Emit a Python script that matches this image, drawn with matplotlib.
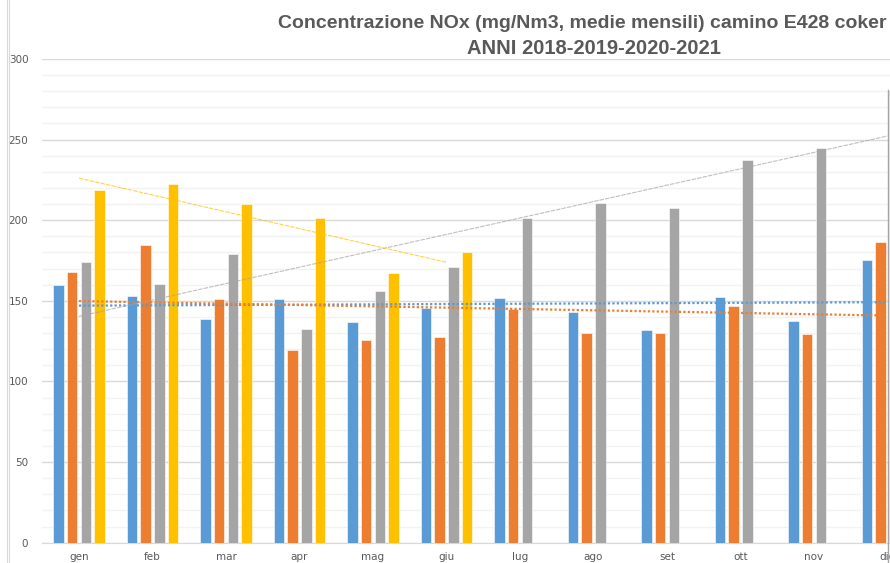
import matplotlib
matplotlib.use("Agg")
import matplotlib.pyplot as plt
from matplotlib.lines import Line2D
import numpy as np

mesi = ['gen', 'feb', 'mar', 'apr', 'mag', 'giu', 'lug', 'ago', 'set', 'ott', 'nov', 'dic']
nox_2018 = [160, 153.2, 138.6, 151, 136.7, 145.8, 151.6, 143.1, 131.9, 152.2, 137.7, 175.5]
nox_2019 = [168, 184.6, 151, 119.3, 125.7, 127.8, 144.8, 130, 129.9, 147, 129.6, 186.7]
nox_2020 = [174, 160.4, 179, 132.4, 156, 171.2, 201.6, 210.9, 207.8, 237.4, 245, 280]
nox_2021 = [218.6, 222.5, 210, 201.3, 167.1, 180.5]
colori = ['#5B9BD5', '#ED7D31', '#A5A5A5', '#FFC000']

fig = plt.figure(figsize=(8.9, 5.63), dpi=100)
ax = fig.add_axes([42.25 / 890, 20.3 / 563, 882 / 890, 483.7 / 563])

serie = [nox_2018, nox_2019, nox_2020, nox_2021]
bw = 0.143
step = 0.184
for i, vals in enumerate(serie):
    x = np.arange(len(vals))
    ax.bar(x + (i - 1.5) * step, vals, width=bw, color=colori[i],
           edgecolor='white', linewidth=0.4, zorder=3)

# linee di tendenza (lineari)
for i, vals in enumerate(serie):
    x = np.arange(len(vals))
    m, q = np.polyfit(x, vals, 1)
    xx = np.array([0, len(vals) - 1])
    if i < 2:
        ax.plot(xx, m * xx + q, color=colori[i], lw=1.6, ls=(0, (1, 1)), zorder=4)
    else:
        ax.plot(xx, m * xx + q, color=colori[i], lw=0.8, ls=(0, (4, 1)), alpha=0.7, zorder=4)

ax.set_xlim(-0.5, 11.5)
ax.set_ylim(0, 300)
ax.set_xticks(range(len(mesi)))
ax.set_xticklabels(mesi)
ax.set_yticks(range(0, 301, 50))
ax.set_yticks(range(0, 301, 10), minor=True)
ax.grid(axis='y', which='major', color='#d9d9d9', lw=1.0, zorder=0)
ax.grid(axis='y', which='minor', color='#f2f2f2', lw=1.0, zorder=0)
for s in ['top', 'right', 'left']:
    ax.spines[s].set_visible(False)
ax.spines['bottom'].set_color('#d9d9d9')
ax.tick_params(axis='both', which='both', length=0, labelsize=7.5, labelcolor='#595959')
ax.tick_params(axis='y', pad=10)
ax.tick_params(axis='x', pad=7)

fig.text(278 / 890, 1 - 24 / 563, 'Concentrazione NOx (mg/Nm3, medie mensili) camino E428 coker',
         ha='left', va='center', fontsize=14, fontweight='bold', color='#595959',
         family='Liberation Sans')
fig.text(594 / 890, 1 - 49 / 563, 'ANNI 2018-2019-2020-2021',
         ha='center', va='center', fontsize=14.5, fontweight='bold', color='#595959',
         family='Liberation Sans')

# bordi della cornice
fig.add_artist(Line2D([6.7 / 890, 6.7 / 890], [0, 1], color='#d9d9d9', lw=0.8))
fig.add_artist(Line2D([9 / 890, 9 / 890], [0, 1], color='#d9d9d9', lw=0.8))
fig.add_artist(Line2D([888 / 890, 888 / 890], [0, 1 - 90 / 563], color='#a6a6a6', lw=1.0))

fig.savefig('out.png', dpi=100)
